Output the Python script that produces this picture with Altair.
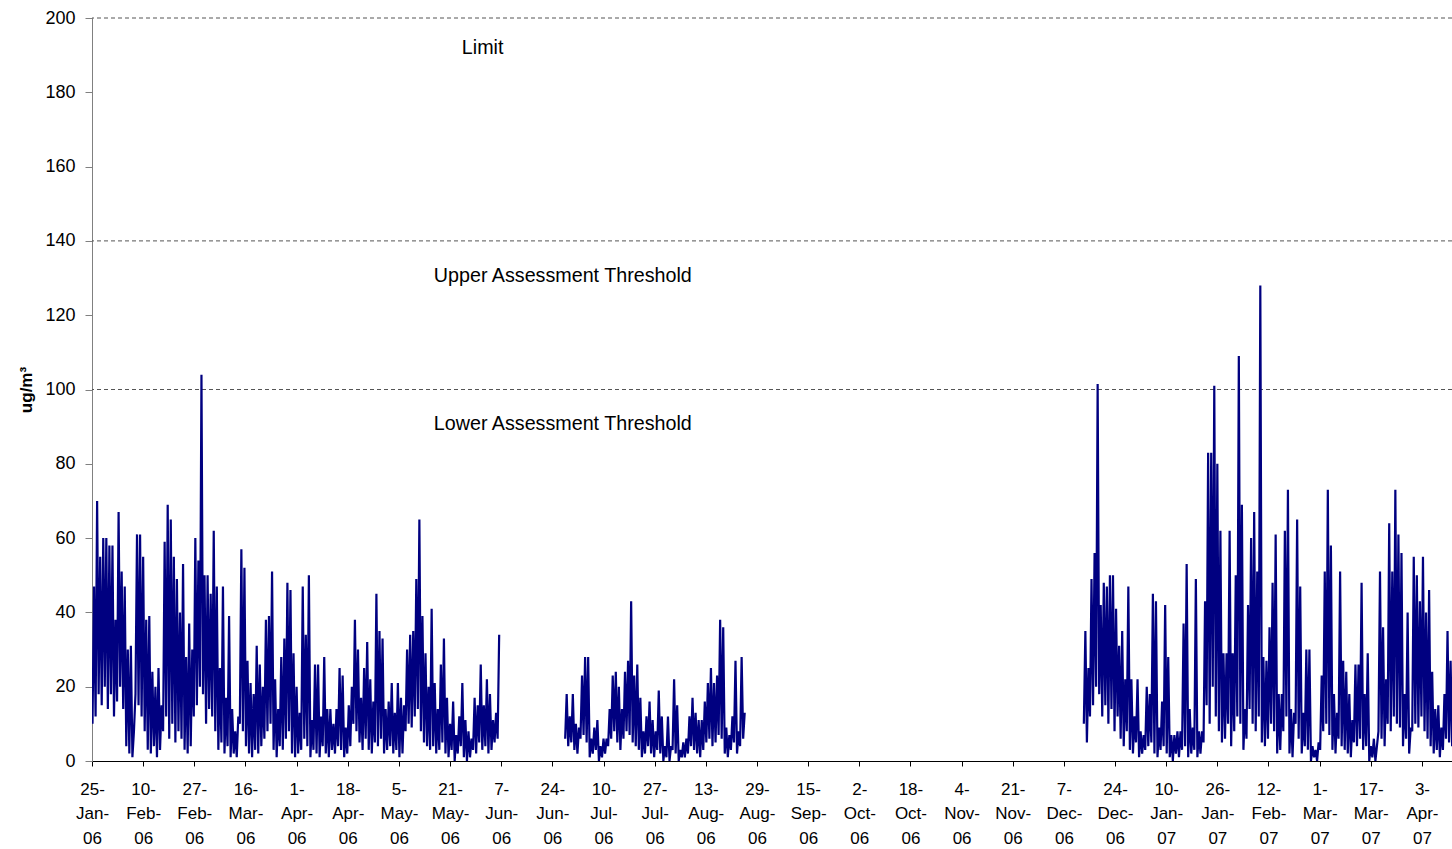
import altair as alt
import pandas as pd

# ---- data (daily high / daily low, ug/m3) ----
seg1_start = "2006-01-25"
seg1_peak = [47, 70, 55, 60, 60, 58, 58, 38, 67, 51,
             47, 30, 31, 8, 61, 61, 55, 38, 39, 24,
             20, 25, 15, 59, 69, 65, 55, 49, 40, 53,
             28, 37, 30, 60, 54, 104, 50, 50, 45, 62,
             47, 25, 47, 17, 39, 14, 8, 12, 57, 52,
             27, 21, 18, 31, 26, 20, 38, 39, 51, 22,
             14, 28, 33, 48, 46, 29, 20, 13, 47, 34,
             50, 11, 26, 26, 12, 28, 14, 14, 10, 14,
             25, 23, 9, 15, 20, 38, 30, 17, 25, 32,
             22, 16, 45, 35, 33, 14, 16, 21, 13, 21,
             17, 15, 30, 34, 35, 49, 65, 39, 29, 20,
             41, 21, 14, 26, 33, 17, 10, 16, 7, 12,
             21, 11, 8, 6, 17, 15, 26, 15, 22, 18,
             11, 13, 34]
seg1_low = [10, 12, 18, 15, 20, 14, 18, 12, 16, 20, 14,
            4, 2, 1,
            18, 15, 12, 8,
            3, 2, 4, 1, 3,
            8, 12, 6, 10, 5, 8, 6,
            3, 2, 4,
            12, 15, 20, 18, 10, 14, 12, 8,
            3, 5, 2, 4, 1, 2, 1,
            10, 8, 4,
            2, 1, 3, 2, 4,
            6, 8, 10, 3,
            1,
            4, 3, 6, 8,
            2, 1, 2,
            3, 6, 4, 1, 3, 2, 1, 4,
            2, 1, 3, 2, 4, 3, 1, 2, 4,
            10, 8, 5, 3,
            6, 3, 2, 5, 4, 6, 2, 3, 4, 2, 3, 1, 2,
            8, 10, 9, 12, 14, 8, 5, 4,
            3, 4, 2, 3, 5, 2, 1, 3, 0, 2, 4, 1, 0, 1, 3, 2, 5, 3, 4, 2, 3, 5, 6]

seg2_start = "2006-06-28"
seg2_peak = [18, 12, 18, 10, 9, 23, 28, 28, 6, 9,
             11, 4, 6, 6, 14, 23, 24, 20, 14, 24,
             27, 43, 23, 26, 17, 8, 12, 16, 11, 8,
             19, 12, 4, 12, 4, 22, 15, 3, 5, 6,
             12, 17, 13, 11, 11, 16, 21, 25, 21, 23,
             38, 36, 9, 7, 12, 27, 8, 28, 13]
seg2_low = [6, 4, 5, 3, 2, 6, 7, 5, 1, 2,
            3, 0, 1, 2, 4, 6, 8, 5, 3, 6,
            8, 7, 5, 4, 3, 1, 2, 4, 2, 1,
            3, 2, 0, 1, 0, 3, 2, 0, 1, 1,
            2, 4, 3, 2, 1, 3, 5, 6, 4, 5,
            7, 6, 2, 1, 3, 5, 2, 4, 6]

seg3_start = "2006-12-14"
seg3_peak = [35, 25, 49, 56, 101.5, 42, 48, 47, 50, 50,
             41, 31, 35, 22, 47, 22, 12, 22, 8, 7,
             20, 18, 45, 43, 9, 16, 42, 28, 7, 7,
             8, 8, 37, 53, 14, 9, 49, 8, 8, 43,
             83, 83, 101, 80, 62, 29, 29, 62, 29, 50,
             109, 69, 14, 42, 60, 67, 51, 128, 28, 27,
             36, 48, 61, 18, 18, 62, 73, 14, 13, 65,
             47, 13, 30, 30, 4, 3, 5, 23, 51, 73,
             58, 18, 13, 51, 27, 24, 18, 11, 26, 26,
             48, 18, 29, 4, 6, 4, 51, 36, 22, 64,
             51, 73, 61, 56, 18, 40, 9, 55, 50, 43,
             55, 40, 46, 24, 14, 15, 9, 18, 35, 27,
             29, 35]
seg3_low = [10, 5, 12, 15, 20, 18, 12, 15, 10, 14,
            8, 12, 6, 4, 8, 3, 2, 5, 1, 2,
            3, 4, 5, 2, 1, 3, 4, 2, 1, 0,
            2, 1, 3, 4, 1, 2, 3, 1, 2, 5,
            15, 10, 20, 12, 8, 5, 6, 10, 4, 8,
            12, 10, 3, 6, 14, 10, 8, 12, 5, 4,
            6, 10, 8, 2, 3, 8, 12, 2, 1, 10,
            6, 2, 4, 3, 0, 1, 0, 3, 8, 10,
            7, 3, 2, 6, 4, 3, 2, 1, 5, 4,
            6, 3, 4, 0, 1, 0, 8, 6, 4, 10,
            8, 12, 10, 9, 4, 6, 2, 8, 10, 9,
            12, 8, 6, 4, 2, 3, 1, 3, 6, 5,
            4, 8]

# thresholds and their labels
threshold_values = [200, 140, 100]
label_texts = ["Limit", "Upper Assessment Threshold", "Lower Assessment Threshold"]
label_times = ["2006-05-25T12:00:00", "2006-05-16T09:00:00", "2006-05-16T09:00:00"]
label_values = [192, 130.5, 90.7]

# x tick dates (every 400 hours from 25-Jan-06)
tick_dates = ["2006-01-25T00:00", "2006-02-10T16:00", "2006-02-27T08:00", "2006-03-16T00:00",
              "2006-04-01T16:00", "2006-04-18T08:00", "2006-05-05T00:00", "2006-05-21T16:00",
              "2006-06-07T08:00", "2006-06-24T00:00", "2006-07-10T16:00", "2006-07-27T08:00",
              "2006-08-13T00:00", "2006-08-29T16:00", "2006-09-15T08:00", "2006-10-02T00:00",
              "2006-10-18T16:00", "2006-11-04T08:00", "2006-11-21T00:00", "2006-12-07T16:00",
              "2006-12-24T08:00", "2007-01-10T00:00", "2007-01-26T16:00", "2007-02-12T08:00",
              "2007-03-01T00:00", "2007-03-17T16:00", "2007-04-03T08:00"]
y_ticks = [0, 20, 40, 60, 80, 100, 120, 140, 160, 180, 200]

# ---- build table ----
rows = []
for seg, (start, peaks, lows) in enumerate([(seg1_start, seg1_peak, seg1_low),
                                             (seg2_start, seg2_peak, seg2_low),
                                             (seg3_start, seg3_peak, seg3_low)]):
    s = pd.Timestamp(start)
    for i, (lo, hi) in enumerate(zip(lows, peaks)):
        d = s + pd.Timedelta(days=i)
        rows.append({"t": (d + pd.Timedelta(hours=4)).strftime("%Y-%m-%dT%H:%M:%S"), "v": lo, "seg": seg})
        rows.append({"t": (d + pd.Timedelta(hours=16)).strftime("%Y-%m-%dT%H:%M:%S"), "v": hi, "seg": seg})
df = pd.DataFrame(rows)

thr = pd.DataFrame({"v": threshold_values})
ann = pd.DataFrame({"t": label_times, "v": label_values, "txt": label_texts})

FONT = "Liberation Sans"


def dt(s):
    d, h = s.split("T")
    y, m, dd = d.split("-")
    hh = h.split(":")[0]
    return alt.DateTime(year=int(y), month=int(m), date=int(dd), hours=int(hh))


xscale = alt.Scale(domain=[alt.DateTime(year=2006, month=1, date=25, hours=0),
                           alt.DateTime(year=2007, month=4, date=13, hours=3)])
yscale = alt.Scale(domain=[0, 200], nice=False)

xaxis = alt.Axis(values=[dt(s) for s in tick_dates], grid=False, title=None,
                 labelExpr="[timeFormat(datum.value, '%-d') + '-', timeFormat(datum.value, '%b') + '-', timeFormat(datum.value, '%y')]",
                 labelFontSize=17, labelFont=FONT, labelColor="#000", labelAlign="center",
                 labelBaseline="top", labelLineHeight=24.5, labelPadding=15, labelOverlap=False,
                 labelFlush=False, labelBound=False,
                 tickSize=5, tickColor="#000", domainColor="#000", tickWidth=1, domainWidth=1)
yaxis = alt.Axis(values=y_ticks, grid=False, title="ug/m³", titleFont=FONT, titleFontSize=17,
                 titleFontWeight="bold", titleColor="#000", titleAngle=270, titleX=-66, titleY=371.5,
                 titleAlign="center", titleBaseline="middle",
                 labelFontSize=18, labelFont=FONT, labelColor="#000", labelPadding=10,
                 tickSize=7, tickColor="#808080", domainColor="#808080", tickWidth=1, domainWidth=1)

line = alt.Chart(df).mark_line(color="#000080", strokeWidth=2.2, clip=True).encode(
    x=alt.X("t:T", scale=xscale, axis=xaxis),
    y=alt.Y("v:Q", scale=yscale, axis=yaxis),
    detail="seg:N",
)

rules = alt.Chart(thr).mark_rule(color="#555555", strokeDash=[4, 3], strokeWidth=1).encode(
    y=alt.Y("v:Q", scale=yscale)
)

texts = alt.Chart(ann).mark_text(align="left", baseline="middle", font=FONT, fontSize=19.7, color="#000").encode(
    x=alt.X("t:T", scale=xscale),
    y=alt.Y("v:Q", scale=yscale),
    text="txt:N",
)

chart = alt.layer(rules, texts, line).properties(
    width=1360, height=743,
    padding={"left": 92, "top": 18, "right": 0, "bottom": 88},
    autosize=alt.AutoSizeParams(type="none"),
    background="white",
).configure_view(stroke="transparent")

chart.save("out.html", embed_options={"renderer": "svg", "actions": False})
